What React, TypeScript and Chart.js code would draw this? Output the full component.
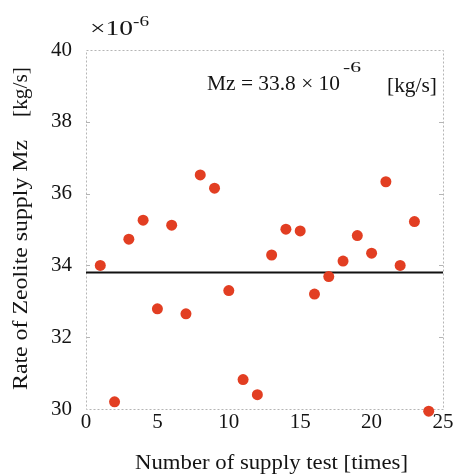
import React, { useEffect, useRef } from "react";
import { Chart, registerables } from "chart.js";

Chart.register(...registerables);

const testNumbers = [1, 2, 3, 4, 5, 6, 7, 8, 9, 10, 11, 12, 13, 14, 15, 16, 17, 18, 19, 20, 21, 22, 23, 24];
const supplyRates = [34.0, 30.2, 34.73, 35.26, 32.79, 35.12, 32.65, 36.52, 36.15, 33.3, 30.82, 30.4, 34.29, 35.01, 34.96, 33.2, 33.69, 34.12, 34.83, 34.34, 36.33, 34.0, 35.22, 29.94];
const meanRate = 33.8;
const xRange = [0, 25];
const yRange = [30, 40];

const SERIF = "'Liberation Serif', 'DejaVu Serif', serif";
const INK = "#141414";

function fitText(ctx: CanvasRenderingContext2D, text: string, x: number, y: number, width: number) {
  const w = ctx.measureText(text).width;
  ctx.save();
  ctx.translate(x, y);
  ctx.scale(width / w, 1);
  ctx.fillText(text, 0, 0);
  ctx.restore();
}

const decorPlugin = {
  id: "decor",
  beforeDatasetsDraw(chart: any) {
    const { ctx, chartArea } = chart;
    const { left, top, right, bottom } = chartArea;
    ctx.save();
    ctx.strokeStyle = "#b5b5b5";
    ctx.lineWidth = 1;
    ctx.setLineDash([2, 2]);
    ctx.strokeRect(left + 0.5, top + 0.5, right - left, bottom - top);
    ctx.setLineDash([]);
    const ys = chart.scales.y;
    for (let v = yRange[0] + 2; v < yRange[1]; v += 2) {
      const py = Math.round(ys.getPixelForValue(v)) + 0.5;
      ctx.beginPath();
      ctx.moveTo(left, py);
      ctx.lineTo(left + 4, py);
      ctx.moveTo(right - 4, py);
      ctx.lineTo(right, py);
      ctx.stroke();
    }
    ctx.restore();
  },
  afterDraw(chart: any) {
    const { ctx } = chart;
    ctx.save();
    ctx.fillStyle = INK;
    ctx.textBaseline = "alphabetic";
    ctx.textAlign = "left";
    // exponent label
    ctx.font = `20px ${SERIF}`;
    fitText(ctx, "\u00d710", 90, 35, 43);
    ctx.font = `15px ${SERIF}`;
    fitText(ctx, "-6", 133, 26, 16);
    // mean annotation
    ctx.font = `20px ${SERIF}`;
    fitText(ctx, "Mz = 33.8 \u00d7 10", 207, 90, 133);
    ctx.font = `15px ${SERIF}`;
    fitText(ctx, "-6", 343, 72, 18);
    ctx.font = `20px ${SERIF}`;
    fitText(ctx, "[kg/s]", 387, 92, 50);
    // x title
    ctx.font = `20px ${SERIF}`;
    fitText(ctx, "Number of supply test [times]", 135, 469, 273);
    // y title
    ctx.save();
    ctx.translate(27, 390);
    ctx.rotate(-Math.PI / 2);
    fitText(ctx, "Rate of Zeolite supply Mz", 0, 0, 250);
    fitText(ctx, "[kg/s]", 273, 0, 50);
    ctx.restore();
    ctx.restore();
  },
};

export default function App() {
  const canvasRef = useRef<HTMLCanvasElement | null>(null);

  useEffect(() => {
    const canvas = canvasRef.current;
    if (!canvas) return;
    const points = testNumbers.map((x, i) => ({ x, y: supplyRates[i] }));
    const chart = new Chart(canvas, {
      type: "scatter",
      data: {
        datasets: [
          {
            label: "Rate",
            data: points,
            pointRadius: 5.5,
            pointBackgroundColor: "rgb(226,62,34)",
            pointBorderWidth: 0,
            pointBorderColor: "rgba(0,0,0,0)",
            showLine: false,
            clip: false,
            order: 0,
          } as any,
          {
            label: "Mean",
            type: "line",
            data: [
              { x: xRange[0], y: meanRate },
              { x: xRange[1], y: meanRate },
            ],
            borderColor: "#111",
            borderWidth: 2,
            pointRadius: 0,
            order: 1,
          } as any,
        ],
      },
      options: {
        responsive: false,
        animation: false,
        devicePixelRatio: 1,
        layout: { padding: { top: 50, right: 16, left: 0, bottom: 0 } },
        plugins: { legend: { display: false }, tooltip: { enabled: false } },
        scales: {
          x: {
            type: "linear",
            min: xRange[0],
            max: xRange[1],
            grid: { display: false },
            border: { display: false },
            ticks: { stepSize: 5, padding: -7, color: INK, font: { family: SERIF, size: 21 } },
            afterFit: (s: any) => {
              s.height = 66;
            },
          },
          y: {
            type: "linear",
            min: yRange[0],
            max: yRange[1],
            grid: { display: false },
            border: { display: false },
            ticks: { stepSize: 2, padding: 6, color: INK, font: { family: SERIF, size: 21 } },
            afterFit: (s: any) => {
              s.width = 86;
            },
          },
        },
      },
      plugins: [decorPlugin],
    });
    return () => chart.destroy();
  }, []);

  return (
    <div style={{ position: "fixed", left: 0, top: 0, width: 459, height: 475, background: "#fff" }}>
      <canvas ref={canvasRef} width={459} height={475} style={{ display: "block" }} />
    </div>
  );
}
